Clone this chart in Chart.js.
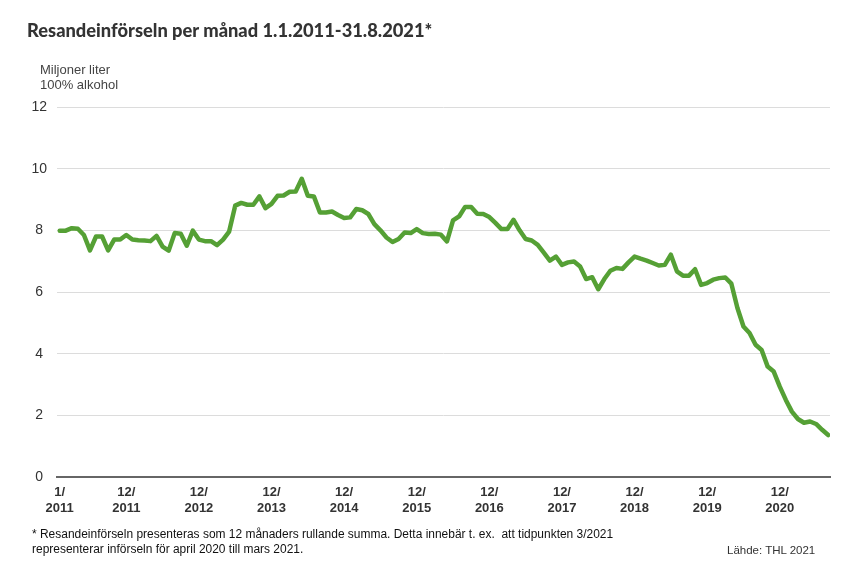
<!DOCTYPE html>
<html>
<head>
<meta charset="utf-8">
<script src="https://cdn.jsdelivr.net/npm/chart.js@4.4.1/dist/chart.umd.min.js"></script>
<style>
  body { margin: 0; background: #fff; }
  #wrap { position: relative; width: 850px; height: 565px; }
  #chart { position: absolute; left: 0; top: 0; }
  .txt { position: absolute; color: #333; white-space: nowrap; }
  #title { left: 27px; top: 19px; font: 900 18.3px Lato, sans-serif; color: #333; }
  #unit { left: 40px; top: 62px; font: 13px "Liberation Sans", Arial, sans-serif; line-height: 15px; color: #444; }
  #note { left: 32px; top: 527px; font: 12.5px "Liberation Sans", Arial, sans-serif; line-height: 15px; color: #111;
          transform: scaleX(0.957); transform-origin: left top; }
  #src { left: 727px; top: 544px; font: 11.5px "Liberation Sans", Arial, sans-serif; color: #333; }
</style>
</head>
<body>
<div id="wrap">
  <canvas id="chart" width="850" height="565"></canvas>
  <div class="txt" id="title">Resandeinförseln per månad 1.1.2011-31.8.2021*</div>
  <div class="txt" id="unit">Miljoner liter<br>100% alkohol</div>
  <div class="txt" id="note">* Resandeinförseln presenteras som 12 månaders rullande summa. Detta innebär t. ex.&nbsp; att tidpunkten 3/2021<br>representerar införseln för april 2020 till mars 2021.</div>
  <div class="txt" id="src">Lähde: THL 2021</div>
</div>
<script>
// month categories 1/2011 .. 8/2021
const months = [];
for (let y = 2011; y <= 2021; y++) {
  for (let m = 1; m <= 12; m++) {
    if (y === 2021 && m > 8) break;
    months.push(m + "/ " + y);
  }
}

// rolling 12-month sum, million litres 100% alcohol
const values = [
  7.99, 7.99, 8.07, 8.05, 7.85, 7.35, 7.8, 7.8, 7.35, 7.7, 7.7, 7.85,
  7.7, 7.68, 7.67, 7.65, 7.82, 7.47, 7.34, 7.91, 7.89, 7.5, 7.99, 7.7,
  7.65, 7.65, 7.52, 7.7, 7.96, 8.8, 8.89, 8.83, 8.83, 9.1, 8.72, 8.86,
  9.12, 9.13, 9.25, 9.26, 9.67, 9.12, 9.1, 8.58, 8.58, 8.61, 8.5, 8.4,
  8.42, 8.69, 8.65, 8.53, 8.2, 8.0, 7.77, 7.62, 7.72, 7.93, 7.91, 8.04,
  7.91, 7.88, 7.89, 7.86, 7.64, 8.32, 8.45, 8.76, 8.76, 8.54, 8.53, 8.43,
  8.24, 8.04, 8.04, 8.34, 8.0, 7.72, 7.67, 7.53, 7.28, 7.02, 7.15, 6.88,
  6.96, 6.99, 6.83, 6.42, 6.48, 6.09, 6.42, 6.69, 6.78, 6.75, 6.96, 7.15,
  7.08, 7.02, 6.94, 6.86, 6.88, 7.21, 6.67, 6.53, 6.53, 6.74, 6.23, 6.29,
  6.4, 6.45, 6.47, 6.27, 5.48, 4.88, 4.67, 4.29, 4.12, 3.58, 3.42, 2.93,
  2.5, 2.12, 1.88, 1.76, 1.8, 1.72, 1.53, 1.36
];

const tickLabels = ["1/ 2011", "12/ 2011", "12/ 2012", "12/ 2013", "12/ 2014", "12/ 2015",
  "12/ 2016", "12/ 2017", "12/ 2018", "12/ 2019", "12/ 2020"];
const yTicks = [0, 2, 4, 6, 8, 10, 12];

const points = values.map((v, i) => ({ x: i, y: v }));

new Chart(document.getElementById('chart'), {
  type: 'line',
  data: {
    datasets: [{
      data: points,
      borderColor: '#55a035',
      borderWidth: 4.5,
      pointRadius: 0,
      tension: 0,
      borderJoinStyle: 'round',
      borderCapStyle: 'round'
    }]
  },
  options: {
    responsive: false,
    animation: false,
    layout: { padding: { top: 107, right: 20, bottom: 40, left: 0 } },
    plugins: { legend: { display: false }, tooltip: { enabled: false } },
    scales: {
      x: {
        type: 'linear',
        min: -0.45,
        max: 127.3,
        afterBuildTicks: scale => {
          scale.ticks = tickLabels.map(t => ({ value: months.indexOf(t) }));
        },
        afterFit: scale => { scale.height = 48; },
        grid: { display: false, drawTicks: false },
        border: { display: true, color: '#666', width: 2 },
        ticks: {
          autoSkip: false,
          maxRotation: 0,
          padding: 8,
          color: '#333',
          font: { family: '"Liberation Sans", Arial, sans-serif', size: 13, weight: 'bold', lineHeight: 1.2 },
          callback: v => months[v] ? months[v].split(' ') : ''
        }
      },
      y: {
        min: 0,
        max: 12,
        afterBuildTicks: scale => {
          scale.ticks = yTicks.map(v => ({ value: v }));
        },
        afterFit: scale => { scale.width = 57; },
        border: { display: false },
        grid: {
          drawTicks: false,
          color: c => c.tick && c.tick.value === 0 ? 'rgba(0,0,0,0)' : '#dcdcdc',
          lineWidth: 1
        },
        ticks: {
          crossAlign: 'center',
          padding: 10,
          color: '#333',
          font: { family: '"Liberation Sans", Arial, sans-serif', size: 14 }
        }
      }
    }
  }
});
</script>
</body>
</html>
